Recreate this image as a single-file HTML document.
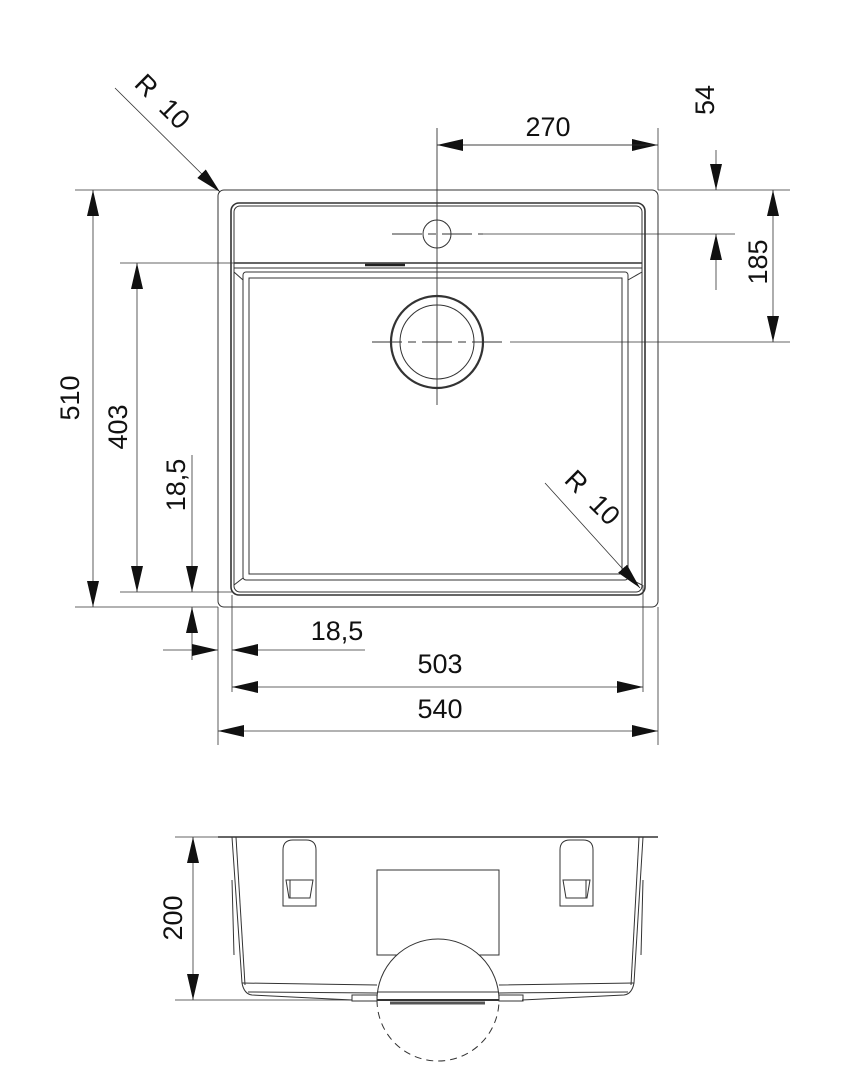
<!DOCTYPE html>
<html><head><meta charset="utf-8"><style>html,body{margin:0;padding:0;background:#fff}svg{display:block}text{font-family:"Liberation Sans",Arial,sans-serif;font-size:27px;fill:#111}</style></head><body>
<svg width="848" height="1067" viewBox="0 0 848 1067" xmlns="http://www.w3.org/2000/svg">
<defs>
<marker id="a" viewBox="0 0 26 12" refX="26" refY="6" markerWidth="26" markerHeight="12" markerUnits="userSpaceOnUse" orient="auto"><path d="M0,0 L26,6 L0,12 Z" fill="#111"/></marker>
</defs>
<g stroke="#333" fill="none" stroke-width="1">
<rect x="218" y="190" width="440" height="417" rx="6"/>
<rect x="231" y="203" width="414" height="392" rx="8" stroke-width="1.6"/>
<rect x="234" y="206" width="408" height="386" rx="6"/>
<line x1="234" y1="263" x2="642" y2="263" stroke-width="1.6"/>
<line x1="234" y1="268" x2="642" y2="268"/>
<rect x="243" y="272" width="385" height="308" rx="3"/>
<rect x="249" y="278" width="373" height="296"/>
<path d="M234,272 L243,280 M642,272 L628,280 M234,585 L243,578 M642,585 L628,578"/>
<line x1="365" y1="265" x2="405" y2="265" stroke-width="2.5" stroke="#222"/>
<circle cx="437" cy="234" r="14"/>
<circle cx="437" cy="342" r="46" stroke-width="2.2"/>
<circle cx="437" cy="342" r="37"/>
<line x1="437" y1="128" x2="437" y2="405" stroke-width="0.9"/>
<line x1="392" y1="234" x2="483" y2="234" stroke-dasharray="30,6,8,6"/>
<line x1="483" y1="234" x2="735" y2="234" stroke-width="0.8"/>
<line x1="372" y1="342" x2="505" y2="342" stroke-dasharray="30,6,8,6"/>
<line x1="510" y1="342" x2="790" y2="342" stroke-width="0.8"/>
<line x1="658" y1="128" x2="658" y2="190" stroke-width="0.8"/>
<line x1="658" y1="190" x2="790" y2="190" stroke-width="0.8"/>
<line x1="75" y1="190" x2="218" y2="190" stroke-width="0.8"/>
<line x1="75" y1="607" x2="218" y2="607" stroke-width="0.8"/>
<line x1="120" y1="263" x2="234" y2="263" stroke-width="0.8"/>
<line x1="120" y1="592" x2="232" y2="592" stroke-width="0.8"/>
<line x1="218" y1="607" x2="218" y2="745" stroke-width="0.8"/>
<line x1="658" y1="607" x2="658" y2="745" stroke-width="0.8"/>
<line x1="232" y1="595" x2="232" y2="692" stroke-width="0.8"/>
<line x1="643" y1="585" x2="643" y2="692" stroke-width="0.8"/>
<line x1="437" y1="145" x2="658" y2="145" stroke-width="0.8" marker-end="url(#a)"/>
<line x1="658" y1="145" x2="437" y2="145" stroke-width="0.8" marker-end="url(#a)"/>
<line x1="716" y1="150" x2="716" y2="190" stroke-width="0.8" marker-end="url(#a)"/>
<line x1="716" y1="290" x2="716" y2="234" stroke-width="0.8" marker-end="url(#a)"/>
<line x1="773" y1="265" x2="773" y2="190" stroke-width="0.8" marker-end="url(#a)"/>
<line x1="773" y1="265" x2="773" y2="342" stroke-width="0.8" marker-end="url(#a)"/>
<line x1="93" y1="400" x2="93" y2="190" stroke-width="0.8" marker-end="url(#a)"/>
<line x1="93" y1="400" x2="93" y2="607" stroke-width="0.8" marker-end="url(#a)"/>
<line x1="137" y1="430" x2="137" y2="263" stroke-width="0.8" marker-end="url(#a)"/>
<line x1="137" y1="430" x2="137" y2="592" stroke-width="0.8" marker-end="url(#a)"/>
<line x1="192" y1="455" x2="192" y2="592" stroke-width="0.8" marker-end="url(#a)"/>
<line x1="192" y1="660" x2="192" y2="607" stroke-width="0.8" marker-end="url(#a)"/>
<line x1="163" y1="650" x2="218" y2="650" stroke-width="0.8" marker-end="url(#a)"/>
<line x1="365" y1="650" x2="232" y2="650" stroke-width="0.8" marker-end="url(#a)"/>
<line x1="440" y1="687" x2="232" y2="687" stroke-width="0.8" marker-end="url(#a)"/>
<line x1="440" y1="687" x2="643" y2="687" stroke-width="0.8" marker-end="url(#a)"/>
<line x1="440" y1="731" x2="218" y2="731" stroke-width="0.8" marker-end="url(#a)"/>
<line x1="440" y1="731" x2="658" y2="731" stroke-width="0.8" marker-end="url(#a)"/>
<line x1="115" y1="88" x2="220" y2="192" stroke-width="0.8" marker-end="url(#a)"/>
<line x1="545" y1="483" x2="640" y2="588" stroke-width="0.8" marker-end="url(#a)"/>
<line x1="218" y1="837" x2="658" y2="837" stroke-width="1.4"/>
<line x1="175" y1="837" x2="218" y2="837" stroke-width="0.8"/>
<line x1="175" y1="1000" x2="352" y2="1000" stroke-width="0.8"/>
<path d="M232,837 L242,983 Q244,994 252,995 L352,1000"/>
<path d="M236,837 L245,985"/>
<path d="M643,837 L634,983 Q632,994 624,995 L522,1000"/>
<path d="M639,837 L631,985"/>
<path d="M242,983 L377,985 M499,985 L634,983"/>
<path d="M248,992 L377,993 M499,993 L628,992"/>
<path d="M232,880 L234,955 M643,880 L641,955"/>
<rect x="352" y="995" width="25" height="6"/>
<rect x="499" y="995" width="24" height="6"/>
<path d="M283,906 L283,850 Q283,840 293,840 L306,840 Q316,840 316,850 L316,906 Z"/>
<path d="M286,880 L313,880 L310,898 L289,898 Z M290,880 L290,898"/>
<path d="M560,906 L560,850 Q560,840 570,840 L583,840 Q593,840 593,850 L593,906 Z"/>
<path d="M563,880 L590,880 L587,898 L566,898 Z M586,880 L586,898"/>
<rect x="377" y="870" width="122" height="85"/>
<path d="M377,1000 A61,61 0 0 1 499,1000" fill="#fff"/>
<path d="M377,992 L499,992"/>
<path d="M377,1000 L499,1000" stroke-width="2"/>
<path d="M390,1003 L485,1003" stroke-width="3" stroke="#555"/>
<path d="M377,1000 A61,61 0 0 0 499,1000" stroke-dasharray="7,5"/>
<line x1="193" y1="918" x2="193" y2="837" stroke-width="0.8" marker-end="url(#a)"/>
<line x1="193" y1="918" x2="193" y2="1000" stroke-width="0.8" marker-end="url(#a)"/>
</g>
<text x="548" y="136" text-anchor="middle">270</text>
<text x="337" y="640" text-anchor="middle">18,5</text>
<text x="440" y="673" text-anchor="middle">503</text>
<text x="440" y="718" text-anchor="middle">540</text>
<text transform="translate(714,100) rotate(-90)" text-anchor="middle">54</text>
<text transform="translate(767,262) rotate(-90)" text-anchor="middle">185</text>
<text transform="translate(79,398) rotate(-90)" text-anchor="middle">510</text>
<text transform="translate(127,427) rotate(-90)" text-anchor="middle">403</text>
<text transform="translate(185,485) rotate(-90)" text-anchor="middle">18,5</text>
<text transform="translate(182,918) rotate(-90)" text-anchor="middle">200</text>
<text transform="translate(156,108) rotate(45)" text-anchor="middle" xml:space="preserve">R  10</text>
<text transform="translate(586,504) rotate(45)" text-anchor="middle" xml:space="preserve">R  10</text>
</svg>
</body></html>
